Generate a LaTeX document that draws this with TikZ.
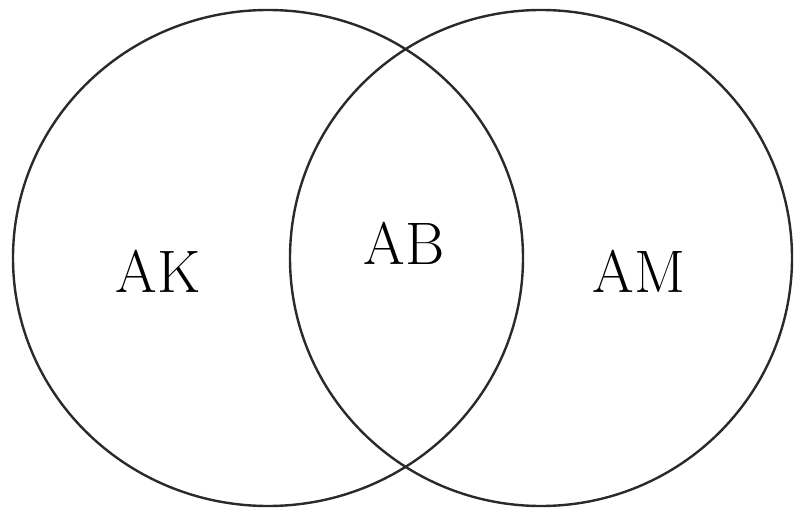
\documentclass[tikz,border=0pt]{standalone}
\usepackage{tikz}
\definecolor{ringline}{HTML}{2A2A2A}

\begin{document}
\begin{tikzpicture}[x=1pt,y=-1pt,line width=2.4pt,
  ring/.style={draw=ringline},
  setlabel/.style={font=\fontsize{60}{64}\selectfont,inner sep=0pt}]
\useasboundingbox (0,0) rectangle (794,510);
\draw[ring] (268,258) ellipse [x radius=255,y radius=248];
\draw[ring] (541,258) ellipse [x radius=251,y radius=248];
\node[setlabel] (ak) at (158,271){AK};
\node[setlabel] (ab) at (404,243){AB};
\node[setlabel] (am) at (639,271){AM};
\end{tikzpicture}
\end{document}
